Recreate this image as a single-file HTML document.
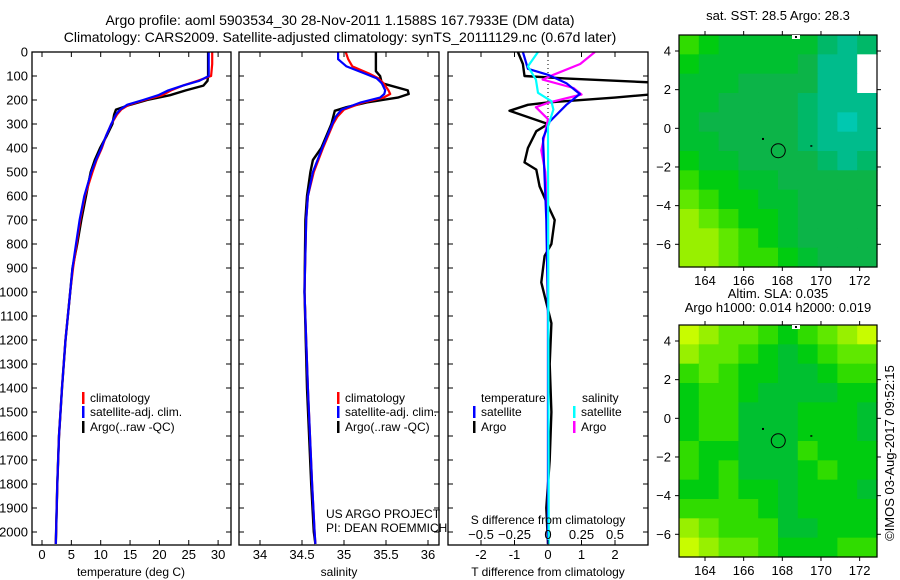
<!DOCTYPE html>
<html><head><meta charset="utf-8"><style>
html,body{margin:0;padding:0;background:#fff;}
svg{display:block;font-family:"Liberation Sans",sans-serif;}
</style></head><body>
<svg id="fig" width="900" height="580" viewBox="0 0 900 580" xmlns="http://www.w3.org/2000/svg">
<text x="340" y="25" font-size="14" text-anchor="middle">Argo profile: aoml 5903534_30 28-Nov-2011 1.1588S 167.7933E (DM data)</text>
<text x="340" y="42" font-size="14" text-anchor="middle">Climatology: CARS2009. Satellite-adjusted climatology: synTS_20111129.nc (0.67d later)</text>
<g id="g"></g>
</svg>
<script>
// ---------- data ----------
const depthT = [0,50,100,120,140,160,180,200,220,240,260,300,350,400,450,500,600,700,800,900,1000,1200,1400,1600,1800,2000,2050];
const tempArgo = [28.3,28.3,28.3,28.2,27.5,24.5,21.8,17.9,15.0,12.6,12.3,12.0,11.0,9.9,9.0,8.3,7.5,6.7,6.0,5.2,4.8,4.0,3.4,2.9,2.6,2.4,2.35];
const tempClim = [29.0,29.0,28.8,26.5,24.0,22.0,20.5,17.5,14.8,13.5,12.8,11.8,10.9,10.2,9.3,8.6,7.3,6.5,5.9,5.3,4.8,4.0,3.4,2.9,2.6,2.4,2.35];
const tempSat = [28.4,28.4,28.4,26.8,24.0,21.5,19.8,17.2,14.5,13.3,12.6,11.8,10.9,10.1,9.2,8.4,7.2,6.4,5.8,5.2,4.8,4.0,3.4,2.9,2.6,2.4,2.35];

const depthSArgo = [0,80,100,130,160,175,190,210,230,245,300,400,450,500,600,700,1000,1400,1800,2000,2050];
const salArgo = [35.38,35.38,35.43,35.45,35.76,35.77,35.64,35.27,35.03,34.89,34.85,34.73,34.63,34.60,34.56,34.54,34.53,34.56,34.61,34.64,34.66];
const depthS = [0,30,60,90,110,130,160,175,190,210,240,270,300,400,500,600,700,1000,1400,1800,2000,2050];
const salClim = [35.02,35.05,35.10,35.30,35.41,35.47,35.53,35.55,35.47,35.23,35.00,34.92,34.87,34.75,34.64,34.57,34.55,34.53,34.57,34.62,34.65,34.66];
const salSat = [34.93,34.93,35.03,35.25,35.39,35.45,35.49,35.48,35.43,35.20,34.97,34.90,34.86,34.74,34.63,34.57,34.55,34.53,34.57,34.62,34.65,34.66];

const depthDA = [0,50,100,110,130,170,190,210,220,245,300,330,400,460,490,560,640,700,800,850,960,1130,1300,1500,1700,1900,2050];
const tDiffArgo = [-0.9,-0.75,-0.7,0.5,3.6,3.6,2.0,0,-0.6,-1.15,0,-0.35,-0.6,-0.7,-0.35,-0.25,0,0.2,0.1,-0.1,-0.2,0.1,0.05,0.1,0.05,-0.05,0];
const depthDS = [0,70,95,130,175,220,290,360,700,1100,2050];
const tDiffSat = [-0.75,-0.6,0,0.55,0.95,0.55,0.05,-0.15,-0.05,0,0];
const depthMS = [0,50,95,115,150,177,210,230,280,410,500,700,2050];
const sDiffArgo = [0.35,0.24,0.04,-0.04,0.19,0.25,0.01,-0.09,0,-0.05,-0.02,0,0];
const depthCS = [0,60,115,170,205,240,310,2050];
const sDiffSat = [-0.075,-0.15,-0.09,-0.075,0.025,0.04,0,0.005];

const depthTicks = [0,100,200,300,400,500,600,700,800,900,1000,1100,1200,1300,1400,1500,1600,1700,1800,1900,2000];
const tempTicks = [0,5,10,15,20,25,30];
const salTicks = [34,34.5,35,35.5,36];
const tdTicks = [-2,-1,0,1,2];
const sdTicks = [-0.5,-0.25,0,0.25,0.5];
const lonTicks = [164,166,168,170,172];
const latTicks = [4,2,0,-2,-4,-6];

const sstGrid = [
[6,5,4,4,4,4,4,2,1,2],
[5,4,4,4,4,4,3,1,1,-1],
[4,4,4,3,3,3,3,1,1,-1],
[4,4,3,3,3,3,2,1,1,1],
[4,3,3,3,3,3,2,1,0,1],
[4,4,3,3,3,3,2,1,1,1],
[5,4,4,3,3,3,3,2,1,2],
[6,5,5,4,4,3,3,3,3,3],
[7,6,5,5,4,4,3,3,3,3],
[8,7,6,5,5,4,3,3,3,3],
[8,8,7,6,5,4,3,3,3,3],
[8,8,7,6,6,5,4,3,3,3]];
const slaGrid = [
[9,8,7,7,6,5,6,7,8,9],
[8,7,7,6,5,4,5,6,7,7],
[6,7,6,5,5,4,4,5,6,6],
[5,6,6,5,4,4,4,4,5,5],
[5,6,6,4,4,4,5,5,5,4],
[5,6,6,4,4,4,5,5,5,4],
[6,5,5,4,4,4,6,5,5,5],
[6,5,6,4,4,4,5,6,5,5],
[5,5,6,5,5,4,5,5,5,4],
[6,6,6,6,5,4,5,5,5,5],
[8,7,6,6,6,4,4,5,5,5],
[9,8,7,7,6,5,5,5,6,6]];
const palette = ['#00c8b0','#00bc8c','#00b868','#0cb448','#00c030','#00cc10','#30dc00','#60e800','#98f000','#c8fc00'];
const argoLon = 167.79, argoLat = -1.16;

// ---------- helpers ----------
const NS = 'http://www.w3.org/2000/svg';
const G = document.getElementById('g');
function el(tag, attrs, parent){ const e=document.createElementNS(NS,tag); for(const k in attrs) e.setAttribute(k,attrs[k]); (parent||G).appendChild(e); return e; }
function txt(x,y,s,size,anchor,parent){ const t=el('text',{x:x,y:y,'font-size':size||12,'text-anchor':anchor||'middle'},parent); t.textContent=s; return t; }

const PT=52, PB=545;
const yD = d => PT + d*0.24;
function panel(x0,x1,name){
  const g = el('g',{});
  
  
  const cid = 'clip-'+name;
  const cp = el('clipPath',{id:cid},g); el('rect',{x:x0,y:PT,width:x1-x0,height:PB-PT},cp);
  return {g, clip:'url(#'+cid+')'};
}
function frame(x0,x1,g){ el('rect',{x:x0,y:PT,width:x1-x0,height:PB-PT,fill:'none',stroke:'#000','stroke-width':1.3},g); }
function yTicks(x0,x1,g,labels){
  depthTicks.forEach(d=>{ const y=yD(d);
    el('line',{x1:x0,y1:y,x2:x0+5,y2:y,stroke:'#000'},g);
    el('line',{x1:x1,y1:y,x2:x1-5,y2:y,stroke:'#000'},g);
    if(labels){ const t=txt(x0-4,y+4.5,String(d),13,'end',g);
        }
  });
}
function xTicks(vals,sx,g,labelY,fmt){
  vals.forEach(v=>{ const x=sx(v);
    el('line',{x1:x,y1:PB,x2:x,y2:PB-5,stroke:'#000'},g);
    el('line',{x1:x,y1:PT,x2:x,y2:PT+5,stroke:'#000'},g);
    const t=txt(x,labelY,fmt?fmt(v):String(v),13,'middle',g);
     
  });
}
function line(xs,ds,sx,color,g,clip,name,w){
  const pts = xs.map((v,i)=>sx(v).toFixed(1)+','+yD(ds[i]).toFixed(1)).join(' ');
  const p = el('polyline',{points:pts,fill:'none',stroke:color,'stroke-width':w||2.2,'stroke-linejoin':'round','clip-path':clip},g);
  
  
}
function legendItem(x,y,color,label,g,name){
  el('rect',{x:x,y:y-10,width:2.5,height:12,fill:color},g);
  const t=txt(x+8,y,label,12,'start',g);
  
  
}

// ---------- panel 1: temperature ----------
{
  const x0=32,x1=231, sx=v=>42+v*5.87;
  const P=panel(x0,x1,'temperature-panel');
  line(tempArgo,depthT,sx,'#000',P.g,P.clip,'argo-temperature-line',2.4);
  line(tempClim,depthT,sx,'#f00',P.g,P.clip,'climatology-temperature-line');
  line(tempSat,depthT,sx,'#00f',P.g,P.clip,'satellite-temperature-line');
  frame(x0,x1,P.g); yTicks(x0,x1,P.g,true); xTicks(tempTicks,sx,P.g,559);
  const t=txt(131,576,'temperature (deg C)',12,'middle',P.g);  
  legendItem(82,402,'#f00','climatology',P.g,'legend-climatology');
  legendItem(82,416,'#00f','satellite-adj. clim.',P.g,'legend-satellite');
  legendItem(82,431,'#000','Argo(..raw -QC)',P.g,'legend-argo');
}
// ---------- panel 2: salinity ----------
{
  const x0=239,x1=439, sx=v=>260+(v-34)*84;
  const P=panel(x0,x1,'salinity-panel');
  line(salArgo,depthSArgo,sx,'#000',P.g,P.clip,'argo-salinity-line',2.4);
  line(salClim,depthS,sx,'#f00',P.g,P.clip,'climatology-salinity-line');
  line(salSat,depthS,sx,'#00f',P.g,P.clip,'satellite-salinity-line');
  frame(x0,x1,P.g); yTicks(x0,x1,P.g,false); xTicks(salTicks,sx,P.g,559);
  const t=txt(339,576,'salinity',12,'middle',P.g);  
  legendItem(337,402,'#f00','climatology',P.g,'legend-climatology-2');
  legendItem(337,416,'#00f','satellite-adj. clim.',P.g,'legend-satellite-2');
  legendItem(337,431,'#000','Argo(..raw -QC)',P.g,'legend-argo-2');
  const a=txt(326,518,'US ARGO PROJECT',12,'start',P.g);  
  const b=txt(326,532,'PI: DEAN ROEMMICH',12,'start',P.g);  
}
// ---------- panel 3: differences ----------
{
  const x0=448,x1=648, sx=v=>548+v*33.5, ss=v=>548+v*134;
  const P=panel(x0,x1,'difference-panel');
  for(let y=PT;y<PB;y+=4) el('rect',{x:547.5,y:y,width:1,height:1,fill:'#000'},P.g);
  line(tDiffArgo,depthDA,sx,'#000',P.g,P.clip,'argo-temp-diff-line',2.4);
  line(sDiffArgo,depthMS,ss,'#f0f',P.g,P.clip,'argo-sal-diff-line');
  line(tDiffSat,depthDS,sx,'#00f',P.g,P.clip,'satellite-temp-diff-line');
  line(sDiffSat,depthCS,ss,'#0ff',P.g,P.clip,'satellite-sal-diff-line');
  frame(x0,x1,P.g); yTicks(x0,x1,P.g,false); xTicks(tdTicks,sx,P.g,559);
  sdTicks.forEach(v=>{ const x=ss(v); el('line',{x1:x,y1:PB,x2:x,y2:PB-5,stroke:'#000'},P.g);
    const t=txt(x,539,String(v).replace('-','\u2212'),13,'middle',P.g);   });
  const a=txt(548,524,'S difference from climatology',12,'middle',P.g);  
  const b=txt(548,576,'T difference from climatology',12,'middle',P.g);  
  const c=txt(481,402,'temperature',12,'start',P.g);  
  const d=txt(582,402,'salinity',12,'start',P.g);  
  legendItem(473,416,'#00f','satellite',P.g,'legend-temp-satellite');
  legendItem(473,431,'#000','Argo',P.g,'legend-temp-argo');
  legendItem(573,416,'#0ff','satellite',P.g,'legend-sal-satellite');
  legendItem(573,431,'#f0f','Argo',P.g,'legend-sal-argo');
}
// ---------- maps ----------
function map(top,bot,lat4y,grid,name,titles){
  const x0=679,x1=877, ppd=19.33;
  const sx=lon=>705+(lon-164)*ppd;
  const lat0 = lat4y+4*ppd;
  const sy=lat=>lat0-lat*ppd;
  const g=el('g',{});
  
  
  const rows=grid.length, cols=grid[0].length, cw=(x1-x0)/cols, ch=(bot-top)/rows;
  grid.forEach((r,i)=>r.forEach((v,j)=>{
    const c=el('rect',{x:(x0+j*cw).toFixed(2),y:(top+i*ch).toFixed(2),width:(cw+0.6).toFixed(2),height:(ch+0.6).toFixed(2),fill:v<0?'#fff':palette[v]},g);
    
    
  }));
  el('rect',{x:x0,y:top,width:x1-x0,height:bot-top,fill:'none',stroke:'#000','stroke-width':1.2},g);
  lonTicks.forEach(l=>{const x=sx(l); el('line',{x1:x,y1:bot,x2:x,y2:bot+4,stroke:'#000'},g); el('line',{x1:x,y1:top,x2:x,y2:top-4,stroke:'#000'},g);
    const t=txt(x,bot+18,String(l),13,'middle',g);  });
  latTicks.forEach(l=>{const y=sy(l); el('line',{x1:x0,y1:y,x2:x0-4,y2:y,stroke:'#000'},g); el('line',{x1:x1,y1:y,x2:x1+4,y2:y,stroke:'#000'},g);
    const t=txt(x0-8,y+4.5,String(l).replace('-','\u2212'),13,'end',g);  });
  const c=el('circle',{cx:sx(argoLon),cy:sy(argoLat),r:7,fill:'none',stroke:'#000','stroke-width':1},g);
   
  el('rect',{x:sx(167)-1,y:sy(-0.55)-1,width:2,height:2,fill:'#000'},g);
  el('rect',{x:sx(169.5)-1,y:sy(-0.9)-0.5,width:2,height:1.5,fill:'#000'},g);
  el('rect',{x:sx(168.5),y:top,width:8,height:4,fill:'#fff'},g);
  el('rect',{x:sx(168.5)+3,y:top+1,width:2,height:2,fill:'#000'},g);
  titles.forEach((s,i)=>{
    const y = titles.length>1 ? top-27+i*14 : top-15;
    const t=txt(778,y,s,13,'middle',g);  });
}
map(35,267,51,sstGrid,'sst-map',['sat. SST: 28.5 Argo: 28.3']);
map(325,557,341,slaGrid,'sla-map',['Altim. SLA: 0.035','Argo h1000: 0.014 h2000: 0.019']);
{
  const t=txt(0,0,'\u00A9IMOS 03-Aug-2017 09:52:15',13,'middle');
  t.setAttribute('transform','translate(894,453) rotate(-90)');
  
  
}
</script>
</body></html>
